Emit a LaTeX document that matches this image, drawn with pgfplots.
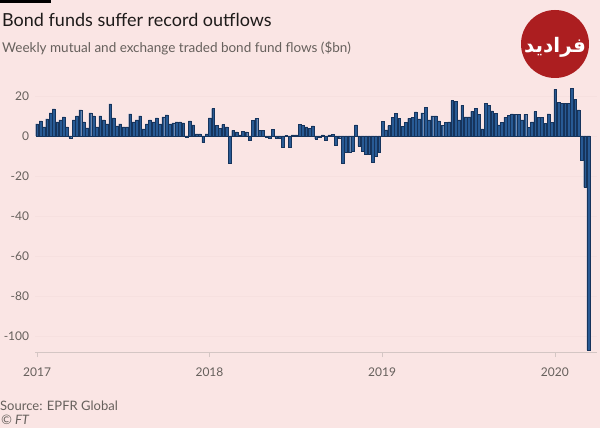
\documentclass[border=0pt]{standalone}
\usepackage{pgfplots}
\pgfplotsset{compat=1.18}
\usepackage{pgfplotstable}
\usepackage{fontspec}
\setmainfont{Lato}
\newfontfamily\arabicfont[Script=Arabic]{DejaVu Sans}
\TeXXeTstate=1
\definecolor{bg}{RGB}{250,229,228}
\definecolor{barblue}{RGB}{40,90,148}
\definecolor{baredge}{RGB}{22,52,92}
\definecolor{txtgray}{RGB}{102,96,92}
\definecolor{titlec}{RGB}{30,27,26}
\definecolor{gridc}{RGB}{246,224,223}
\definecolor{axisc}{RGB}{212,198,196}
\definecolor{logored}{RGB}{172,30,32}

\pgfplotstableread{
i v
0 6
1 7.5
2 4.5
3 8.5
4 11.5
5 13.5
6 7
7 8
8 9.5
9 4.5
10 -1
11 8
12 10
13 13
14 7
15 4
16 11.5
17 10
18 4.5
19 10
20 8
21 6
22 16
23 9
24 5
25 6
26 4.5
27 4.5
28 11
29 7
30 8
31 10
32 3.5
33 6
34 8
35 7
36 9
37 6
38 9.5
39 10.5
40 6
41 6.5
42 7
43 7
44 6.5
45 -0.7
46 7.5
47 5.5
48 1
49 1
50 -3.3
51 1
52 9
53 13.7
54 5.3
55 3.7
56 5.7
57 4.5
58 -13.8
59 2.8
60 2
61 0.5
62 2.3
63 2
64 -2
65 7.8
66 8.7
67 2.8
68 2.8
69 -0.5
70 -1
71 3.2
72 -1
73 -1
74 -5.5
75 0.3
76 -5.8
77 0.5
78 0.5
79 5.7
80 5.3
81 4.5
82 3.7
83 5
84 -1.5
85 -0.5
86 0.5
87 -2
88 0.5
89 0.7
90 -4.5
91 -1
92 -13.5
93 -8
94 -8
95 -7.8
96 5.5
97 -5
98 -7.8
99 -9
100 -9
101 -13
102 -10
103 -8
104 7.2
105 3
106 5.2
107 9.3
108 11.3
109 8.8
110 4.7
111 6.7
112 8.8
113 9.2
114 12
115 8.5
116 11.5
117 14.3
118 8
119 10
120 10
121 7.5
122 5.2
123 6.7
124 7
125 17.7
126 17.2
127 8
128 15.3
129 9.5
130 9.5
131 12.3
132 13.7
133 10.7
134 3.5
135 16.3
136 15.2
137 12.5
138 11.3
139 5.5
140 6.8
141 9.3
142 10.3
143 11
144 10.7
145 10.8
146 8
147 10.8
148 4.3
149 7
150 12.2
151 9.3
152 9.2
153 6.3
154 11
155 6.7
156 23.3
157 16.7
158 16.3
159 16.3
160 16.3
161 23.8
162 18.3
163 13
164 -12.3
165 -25.7
166 -107
}\flows

\begin{document}
\begin{tikzpicture}[x=1pt,y=1pt]
\fill[bg] (0,0) rectangle (600,-428);
\fill[black] (0,0) rectangle (51,-3.5);
\node[anchor=base west, inner sep=0, font=\fontsize{18}{20}\selectfont, text=titlec] at (2,-26.5) {Bond funds suffer record outflows};
\node[anchor=base west, inner sep=0, font=\fontsize{13.5}{15}\selectfont, text=txtgray] at (2,-52.5) {Weekly mutual and exchange traded bond fund flows (\$bn)};
\node[anchor=base west, inner sep=0, font=\fontsize{13}{15}\selectfont, text=txtgray] at (0,-410) {Source: EPFR Global};
\node[anchor=base west, inner sep=0, font=\itshape\fontsize{13}{15}\selectfont, text=txtgray] at (1,-424.5) {\textcopyright{} FT};
\fill[logored] (555,-44) circle (34);
\node[text=white, font=\arabicfont\bfseries\fontsize{20}{22}\selectfont] at (555,-47) {\beginR فرادید\endR};
\begin{axis}[
  at={(35.3pt,-352pt)}, anchor=south west,
  scale only axis, width=561.7pt, height=266pt,
  xmin=-0.55, xmax=168.6, ymin=-108, ymax=25,
  axis x line*=bottom, axis y line*=left,
  separate axis lines,
  x axis line style={draw=axisc, line width=0.6pt},
  y axis line style={draw=none},
  tick align=outside,
  xtick={0,51.9,103.9,155.9},
  xticklabels={2017,2018,2019,2020},
  x tick style={draw=axisc, line width=0.6pt},
  major tick length=5pt,
  ytick={-100,-80,-60,-40,-20,0,20},
  yticklabels={-100,-80,-60,-40,-20,0,20},
  y tick style={draw=none},
  ymajorgrids, grid style={gridc, line width=0.5pt},
  yticklabel style={text=txtgray, font=\fontsize{12}{14}\selectfont, anchor=east, inner sep=0pt, xshift=-1pt},
  xticklabel style={text=txtgray, font=\fontsize{12}{14}\selectfont, anchor=north, inner sep=0pt, yshift=-11pt},
  clip=false,
]
\addplot[ybar, bar width=2.8pt, fill=barblue, draw=baredge, line width=0.3pt] table[x=i, y=v] {\flows};
\end{axis}
\pgfresetboundingbox
\useasboundingbox (0,0) rectangle (600,-428);
\end{tikzpicture}
\end{document}
